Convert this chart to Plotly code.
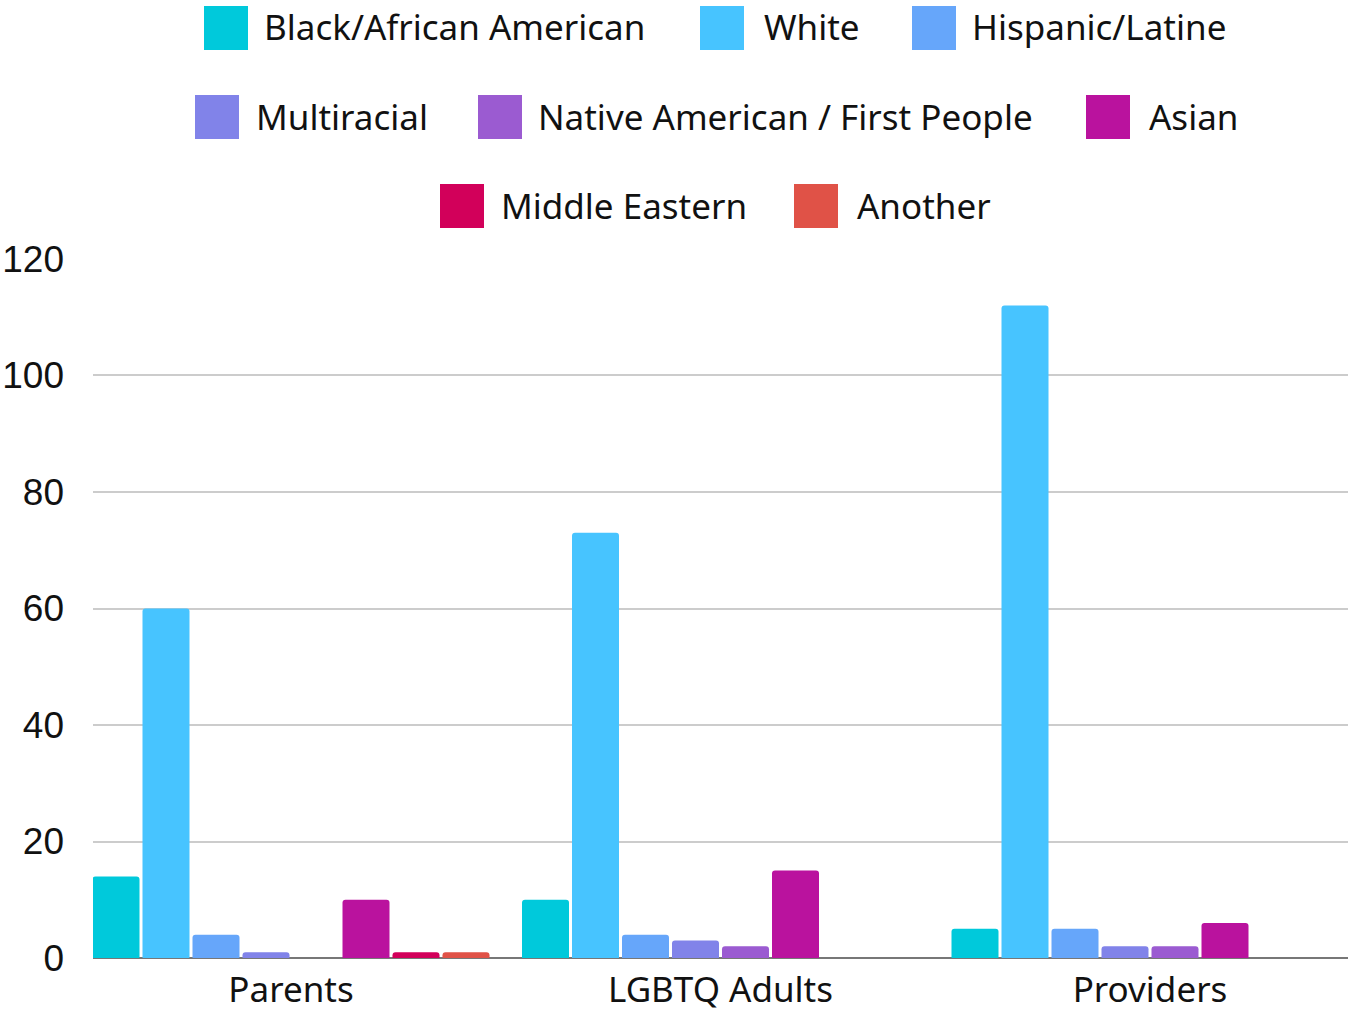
import plotly.graph_objects as go

categories = ["Parents", "LGBTQ Adults", "Providers"]
series_names = ["Black/African American", "White", "Hispanic/Latine", "Multiracial",
                "Native American / First People", "Asian", "Middle Eastern", "Another"]
series_colors = ["#00C9DB", "#47C4FF", "#66A6FA", "#8183E9",
                 "#9B5BD1", "#BA129E", "#D2005A", "#E05247"]
black_african_american = [14, 10, 5]
white = [60, 73, 112]
hispanic_latine = [4, 4, 5]
multiracial = [1, 3, 2]
native_american = [0, 2, 2]
asian = [10, 15, 6]
middle_eastern = [1, 0, 0]
another = [1, 0, 0]
series_values = [black_african_american, white, hispanic_latine, multiracial,
                 native_american, asian, middle_eastern, another]
y_ticks = [0, 20, 40, 60, 80, 100, 120]

W, H = 1348, 1011
L, R, T, B = 93, 0, 258, 53
PW, PH = W - L - R, H - T - B
YMAX = 120.17

fig = go.Figure()
for name, color, vals in zip(series_names, series_colors, series_values):
    fig.add_trace(go.Bar(x=categories, y=vals, name=name, marker_color=color,
                         marker_line_width=0, showlegend=False))

# custom legend (large square swatches), positions in page pixels
legend_pos = [  # (swatch left px, text left px, row center px)
    (204, 262, 28), (700, 762, 28), (912, 970, 28),
    (195, 254, 117), (478, 536, 117), (1086, 1147, 117),
    (440, 499, 206), (794, 855, 206),
]
def px2x(px):
    return (px - L) / PW
def py2y(py):
    return (T + PH - py) / PH

shapes = []
annotations = []
for (sx, tx, cy), name, color in zip(legend_pos, series_names, series_colors):
    shapes.append(dict(type="rect", xref="paper", yref="paper",
                       x0=px2x(sx), x1=px2x(sx + 44), y0=py2y(cy + 22), y1=py2y(cy - 22),
                       fillcolor=color, line_width=0))
    annotations.append(dict(text=name, xref="paper", yref="paper", x=px2x(tx), y=py2y(cy - 1),
                            xanchor="left", yanchor="middle", showarrow=False,
                            font=dict(family="Noto Sans", size=35, color="#111111")))

fig.update_layout(
    width=W, height=H,
    margin=dict(l=L, r=R, t=T, b=B, pad=0),
    paper_bgcolor="white", plot_bgcolor="white",
    barmode="group", bargap=0.0687, bargroupgap=0.06,
    barcornerradius=3,
    shapes=shapes, annotations=annotations,
    xaxis=dict(type="category", range=[-0.461, 2.461], showgrid=False, automargin=False,
               showline=False, ticks="", ticklabelstandoff=8,
               tickfont=dict(family="Noto Sans", size=35, color="#111111")),
    yaxis=dict(range=[0, YMAX], tickvals=y_ticks, showgrid=True, gridcolor="#CCCCCC",
               gridwidth=1.5, zeroline=True, zerolinecolor="#777777", zerolinewidth=2,
               showline=False, ticks="", ticklabelstandoff=28, automargin=False,
               tickfont=dict(family="Liberation Sans", size=37, color="#111111")),
    showlegend=False,
)
fig.write_html("out.html", config={"displayModeBar": False},
               post_script="document.body.style.margin='0';document.body.style.overflow='hidden';")
